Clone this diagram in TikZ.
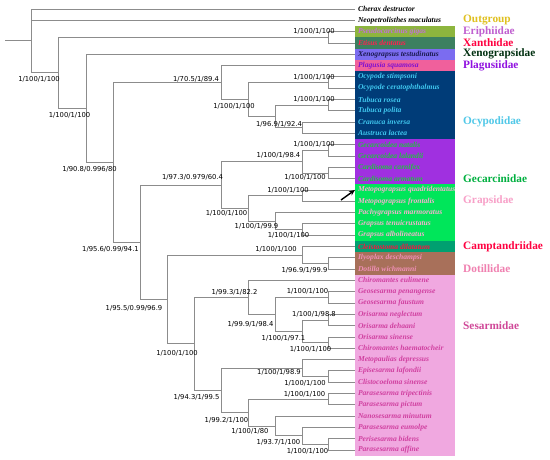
\documentclass[tikz,border=0pt]{standalone}
\usepackage{fontspec}
\setmainfont{Liberation Serif}
\newfontfamily\lblfont{DejaVu Sans}
\usetikzlibrary{arrows.meta}
\definecolor{brgray}{HTML}{8C8C8C}
% box colours
\definecolor{bxOlive}{HTML}{8DB53E}
\definecolor{bxTeal}{HTML}{3C8060}
\definecolor{bxSlate}{HTML}{7B6CF0}
\definecolor{bxPink}{HTML}{F0609C}
\definecolor{bxNavy}{HTML}{003C78}
\definecolor{bxPurple}{HTML}{A030E0}
\definecolor{bxGreen}{HTML}{00E65A}
\definecolor{bxJade}{HTML}{00A070}
\definecolor{bxBrown}{HTML}{A8705A}
\definecolor{bxLilac}{HTML}{F0A8E0}
% text colours
\definecolor{tEri}{HTML}{C070D8}
\definecolor{tXan}{HTML}{FF2050}
\definecolor{tXen}{HTML}{1A1A50}
\definecolor{tPla}{HTML}{8010D0}
\definecolor{tOcy}{HTML}{40C8F0}
\definecolor{tGec}{HTML}{20C040}
\definecolor{tGra}{HTML}{F8B0D0}
\definecolor{tCam}{HTML}{FF1040}
\definecolor{tDot}{HTML}{F090B8}
\definecolor{tSes}{HTML}{D040A0}
% family label colours
\definecolor{fOut}{HTML}{E0C020}
\definecolor{fEri}{HTML}{C060D0}
\definecolor{fXan}{HTML}{FF0040}
\definecolor{fXen}{HTML}{003010}
\definecolor{fPla}{HTML}{9010E0}
\definecolor{fOcy}{HTML}{50C8E8}
\definecolor{fGec}{HTML}{00B040}
\definecolor{fGra}{HTML}{F8A0C8}
\definecolor{fCam}{HTML}{FF0040}
\definecolor{fDot}{HTML}{F080B0}
\definecolor{fSes}{HTML}{D04898}
\begin{document}
\begin{tikzpicture}[x=1pt,y=-1pt,
  br/.style={draw=brgray,line width=0.85pt},
  leaf/.style={anchor=west,inner xsep=3pt,inner ysep=0pt,outer sep=0pt,font=\fontsize{7.6}{8}\selectfont\bfseries\itshape},
  blab/.style={inner sep=0pt,font=\lblfont\fontsize{6.8}{7}\selectfont},
  fam/.style={anchor=west,inner sep=0pt,font=\fontsize{11.3}{12}\selectfont\bfseries}]
\useasboundingbox (0,0) rectangle (550,459);
\fill[white] (0,0) rectangle (550,459);
% colour bands
\foreach \a/\b/\c in {3/3/bxOlive,4/4/bxTeal,5/5/bxSlate,6/6/bxPink,7/12/bxNavy,13/16/bxPurple,17/21/bxGreen,22/22/bxJade,23/24/bxBrown,25/40/bxLilac}
  \fill[\c] (355,{9+(\a-1)*11.3077-5.654}) rectangle (455,{9+(\b-1)*11.3077+5.654});
% leaves
\foreach \t/\c [count=\i] in {
 Cherax destructor/black,
 Neopetrolisthes maculatus/black,
 Pseudocarcinus gigas/tEri,
 Etisus dentatus/tXan,
 Xenograpsus testudinatus/tXen,
 Plagusia squamosa/tPla,
 Ocypode stimpsoni/tOcy,
 Ocypode ceratophthalmus/tOcy,
 Tubuca rosea/tOcy,
 Tubuca polita/tOcy,
 Cranuca inversa/tOcy,
 Austruca lactea/tOcy,
 Gecarcoidea natalis/tGec,
 Gecarcoidea lalandii/tGec,
 Cardisoma carnifex/tGec,
 Cardisoma armatum/tGec,
 Metopograpsus quadridentatus/tGra,
 Metopograpsus frontalis/tGra,
 Pachygrapsus marmoratus/tGra,
 Grapsus tenuicrustatus/tGra,
 Grapsus albolineatus/tGra,
 Cleistostoma dilatatum/tCam,
 Ilyoplax deschampsi/tDot,
 Dotilla wichmanni/tDot,
 Chiromantes eulimene/tSes,
 Geosesarma penangense/tSes,
 Geosesarma faustum/tSes,
 Orisarma neglectum/tSes,
 Orisarma dehaani/tSes,
 Orisarma sinense/tSes,
 Chiromantes haematocheir/tSes,
 Metopaulias depressus/tSes,
 Episesarma lafondii/tSes,
 Clistocoeloma sinense/tSes,
 Parasesarma tripectinis/tSes,
 Parasesarma pictum/tSes,
 Nanosesarma minutum/tSes,
 Parasesarma eumolpe/tSes,
 Perisesarma bidens/tSes,
 Parasesarma affine/tSes}
  \node[leaf,text=\c] (l\i) at (355,{9+(\i-1)*11.3077}) {\t};
% internal nodes
\coordinate (R0) at (5,40.89);
\coordinate (A) at (31,40.89);
\coordinate (B) at (58,72.78);
\coordinate (PE) at (328,37.27);
\coordinate (C) at (86,108.29);
\coordinate (D) at (113,162.34);
\coordinate (E) at (221,82.50);
\coordinate (F) at (248,99.46);
\coordinate (Op) at (328,82.50);
\coordinate (G) at (275,116.42);
\coordinate (Tp) at (328,105.12);
\coordinate (Cr) at (302,127.73);
\coordinate (K) at (140,242.18);
\coordinate (H) at (221,184.98);
\coordinate (Gc) at (302,161.65);
\coordinate (Gp) at (328,150.35);
\coordinate (Cp) at (328,172.96);
\coordinate (I) at (248,208.30);
\coordinate (Mp) at (302,195.58);
\coordinate (J) at (275,221.02);
\coordinate (Grp) at (302,229.50);
\coordinate (M) at (167,299.38);
\coordinate (N) at (302,254.94);
\coordinate (Dp) at (328,263.42);
\coordinate (S) at (194,343.82);
\coordinate (P1) at (248,297.35);
\coordinate (V) at (275,314.31);
\coordinate (Gsp) at (328,297.35);
\coordinate (W) at (302,331.27);
\coordinate (Orp) at (328,319.96);
\coordinate (Shp) at (328,342.58);
\coordinate (P2) at (221,390.29);
\coordinate (R) at (302,368.02);
\coordinate (Ep) at (328,376.50);
\coordinate (Q) at (248,412.55);
\coordinate (Pp) at (328,399.12);
\coordinate (T) at (275,425.97);
\coordinate (U) at (302,435.87);
\coordinate (Pb) at (328,444.35);
% branches
\draw[br] (R0) -- (A);
\foreach \p/\c in {A/l1.west,A/l2.west,A/B,B/PE,B/C,PE/l3.west,PE/l4.west,
  C/l5.west,C/D,D/E,D/K,E/l6.west,E/F,F/Op,F/G,Op/l7.west,Op/l8.west,
  G/Tp,G/Cr,Tp/l9.west,Tp/l10.west,Cr/l11.west,Cr/l12.west,
  K/H,K/M,H/Gc,H/I,Gc/Gp,Gc/Cp,Gp/l13.west,Gp/l14.west,Cp/l15.west,Cp/l16.west,
  I/Mp,I/J,Mp/l17.west,Mp/l18.west,J/l19.west,J/Grp,Grp/l20.west,Grp/l21.west,
  M/N,M/S,N/l22.west,N/Dp,Dp/l23.west,Dp/l24.west,
  S/P1,S/P2,P1/l25.west,P1/V,V/Gsp,V/W,Gsp/l26.west,Gsp/l27.west,
  W/Orp,W/Shp,Orp/l28.west,Orp/l29.west,Shp/l30.west,Shp/l31.west,
  P2/R,P2/Q,R/l32.west,R/Ep,Ep/l33.west,Ep/l34.west,
  Q/Pp,Q/T,Pp/l35.west,Pp/l36.west,T/l37.west,T/U,U/l38.west,U/Pb,Pb/l39.west,Pb/l40.west}
  \draw[br] (\p) |- (\c);
% support labels
\node[blab] (sPE) at (314,31.7) {1/100/1/100};
\node[blab] (sB) at (39,79) {1/100/1/100};
\node[blab] (sC) at (69.5,115.5) {1/100/1/100};
\node[blab] (sD) at (89.5,169) {1/90.8/0.996/80};
\node[blab] (sE) at (196,79) {1/70.5/1/89.4};
\node[blab] (sOp) at (314,77.7) {1/100/1/100};
\node[blab] (sF) at (234,106) {1/100/1/100};
\node[blab] (sTp) at (314,99) {1/100/1/100};
\node[blab] (sCr) at (279,124) {1/96.9/1/92.4};
\node[blab] (sGp) at (314,144.3) {1/100/1/100};
\node[blab] (sGc) at (278.5,155) {1/100/1/98.4};
\node[blab] (sCp) at (305,177.7) {1/100/1/100};
\node[blab] (sH) at (192.5,177) {1/97.3/0.979/60.4};
\node[blab] (sMp) at (288,190) {1/100/1/100};
\node[blab] (sI) at (226.5,213) {1/100/1/100};
\node[blab] (sJ) at (256.5,226.7) {1/100/1/99.9};
\node[blab] (sGrp) at (288.5,235.7) {1/100/1/100};
\node[blab] (sK) at (110.5,249) {1/95.6/0.99/94.1};
\node[blab] (sN) at (276,249.3) {1/100/1/100};
\node[blab] (sDp) at (304.5,270) {1/96.9/1/99.9};
\node[blab] (sP1) at (234.5,292) {1/99.3/1/82.2};
\node[blab] (sGsp) at (307.5,291.7) {1/100/1/100};
\node[blab] (sM) at (134,308) {1/95.5/0.99/96.9};
\node[blab] (sOrp) at (314,314.3) {1/100/1/98.8};
\node[blab] (sV) at (250.5,324) {1/99.9/1/98.4};
\node[blab] (sW) at (283.5,338.3) {1/100/1/97.1};
\node[blab] (sShp) at (310.5,349) {1/100/1/100};
\node[blab] (sS) at (177,353.3) {1/100/1/100};
\node[blab] (sR) at (279,372.7) {1/100/1/98.9};
\node[blab] (sEp) at (305,383.3) {1/100/1/100};
\node[blab] (sPp) at (304.5,394.3) {1/100/1/100};
\node[blab] (sP2) at (196.5,397.3) {1/94.3/1/99.5};
\node[blab] (sQ) at (226.5,420) {1/99.2/1/100};
\node[blab] (sT) at (250,431.7) {1/100/1/80};
\node[blab] (sU) at (278.5,442.3) {1/93.7/1/100};
\node[blab] (sPb) at (307.5,451) {1/100/1/100};
% family labels
\node[fam,text=fOut] (fOut) at (463,20.3) {Outgroup};
\node[fam,text=fEri] (fEri) at (463,31.6) {Eriphiidae};
\node[fam,text=fXan] (fXan) at (463,42.9) {Xanthidae};
\node[fam,text=fXen] (fXen) at (463,54.2) {Xenograpsidae};
\node[fam,text=fPla] (fPla) at (463,65.5) {Plagusiidae};
\node[fam,text=fOcy] (fOcy) at (463,122) {Ocypodidae};
\node[fam,text=fGec] (fGec) at (463,178.6) {Gecarcinidae};
\node[fam,text=fGra] (fGra) at (463,201.2) {Grapsidae};
\node[fam,text=fCam] (fCam) at (463,246.5) {Camptandriidae};
\node[fam,text=fDot] (fDot) at (463,269.1) {Dotillidae};
\node[fam,text=fSes] (fSes) at (463,325.6) {Sesarmidae};
% arrow
\coordinate (arrS) at (341,200);
\draw[-{Stealth[length=6pt,width=5pt]},line width=1.4pt,black] (arrS) -- (l17.west);
\end{tikzpicture}
\end{document}
